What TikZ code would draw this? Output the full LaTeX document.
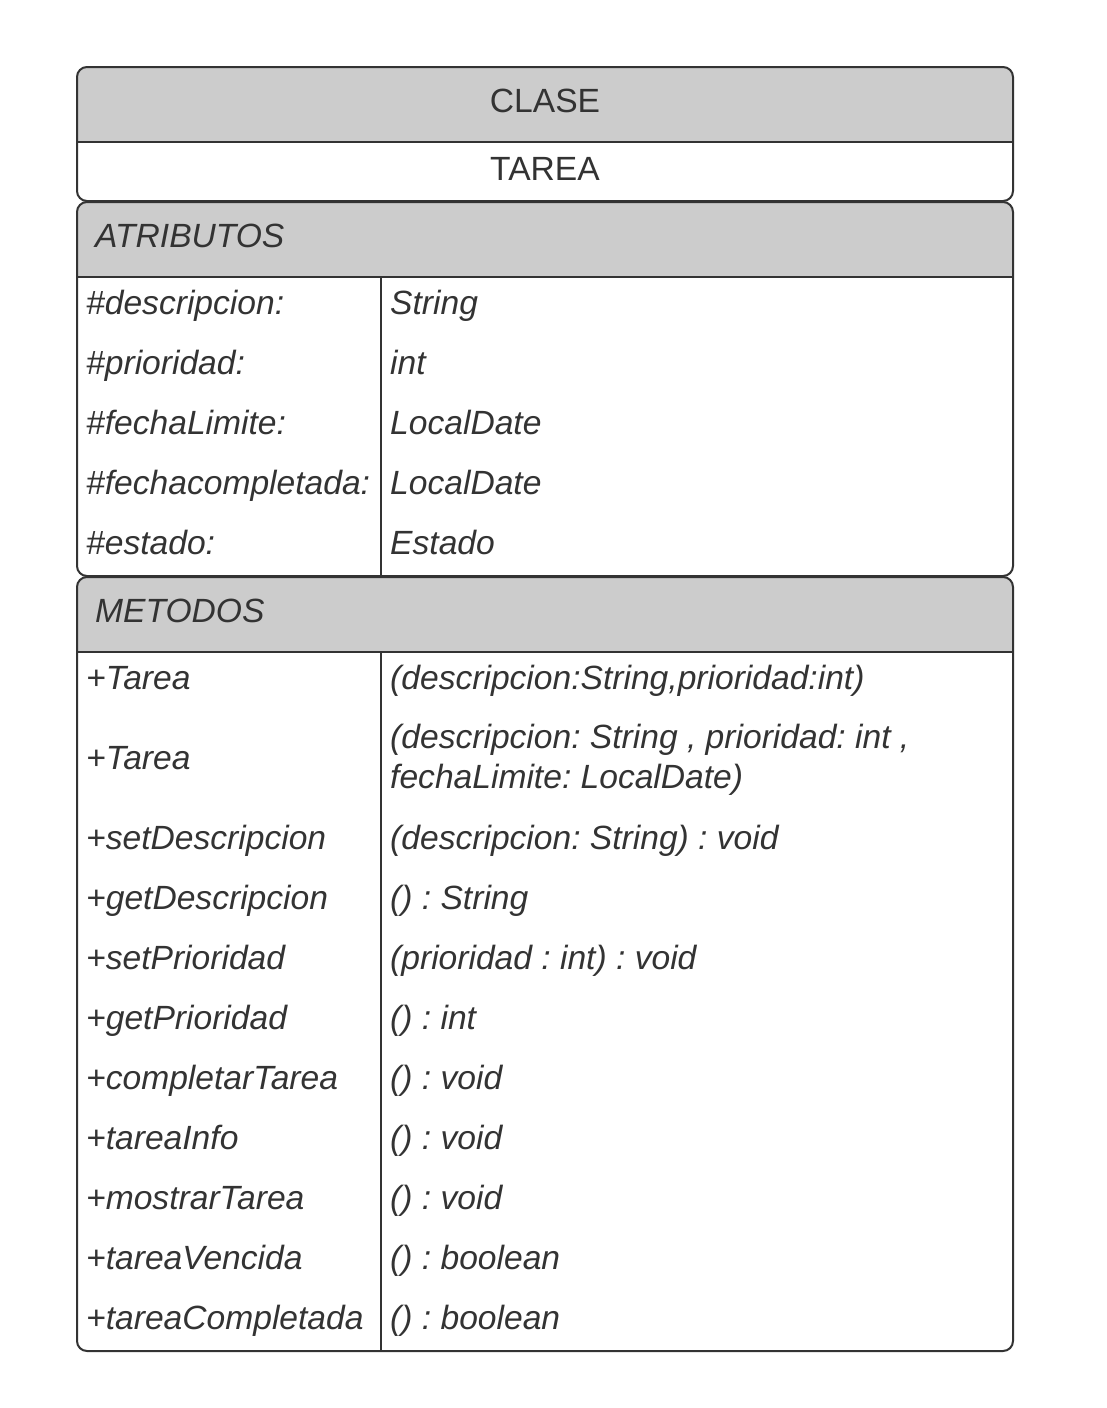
\documentclass[tikz,border=0pt]{standalone}
\usepackage{fontspec}
\setmainfont{Liberation Sans}
\frenchspacing
\definecolor{ln}{HTML}{333333}
\definecolor{hd}{HTML}{CCCCCC}
\tikzset{
  frame/.style={draw=ln, line width=2pt, rounded corners=10pt},
  sep/.style={draw=ln, line width=2pt},
  it/.style={anchor=base west, inner sep=0pt, text=ln, font=\fontsize{33.6}{40}\selectfont\itshape\frenchspacing},
  up/.style={anchor=base, inner sep=0pt, text=ln, font=\fontsize{33.6}{40}\selectfont},
}
\begin{document}
\begin{tikzpicture}[x=1pt,y=-1pt]
\useasboundingbox (0,0) rectangle (1106,1408);
\fill[white] (0,0) rectangle (1106,1408);
% ---- box 1: CLASE / TAREA
\begin{scope}
  \clip[rounded corners=10pt] (77,67) rectangle (1013,201);
  \fill[hd] (77,67) rectangle (1013,142);
\end{scope}
\draw[frame] (77,67) rectangle (1013,201);
\draw[sep] (77,142) -- (1013,142);
\node[up] (clase) at (545,112) {CLASE};
\node[up] (tarea) at (545,180) {TAREA};
% ---- box 2: ATRIBUTOS
\begin{scope}
  \clip[rounded corners=10pt] (77,202) rectangle (1013,576);
  \fill[hd] (77,202) rectangle (1013,277);
\end{scope}
\draw[frame] (77,202) rectangle (1013,576);
\draw[sep] (77,277) -- (1013,277);
\draw[sep] (381,277) -- (381,576);
\node[it] (atr) at (95,247) {ATRIBUTOS};
\node[it] (a1) at (86,314) {\#descripcion:};
\node[it] (a2) at (86,374) {\#prioridad:};
\node[it] (a3) at (86,434) {\#fechaLimite:};
\node[it] (a4) at (86,494) {\#fechacompletada:};
\node[it] (a5) at (86,554) {\#estado:};
\node[it] (t1) at (390,314) {String};
\node[it] (t2) at (390,374) {int};
\node[it] (t3) at (390,434) {LocalDate};
\node[it] (t4) at (390,494) {LocalDate};
\node[it] (t5) at (390,554) {Estado};
% ---- box 3: METODOS
\begin{scope}
  \clip[rounded corners=10pt] (77,577) rectangle (1013,1351);
  \fill[hd] (77,577) rectangle (1013,652);
\end{scope}
\draw[frame] (77,577) rectangle (1013,1351);
\draw[sep] (77,652) -- (1013,652);
\draw[sep] (381,652) -- (381,1351);
\node[it] (met) at (95,622) {METODOS};
\node[it] (m1) at (86,689) {+Tarea};
\node[it] (m2) at (86,769) {+Tarea};
\node[it] (m3) at (86,849) {+setDescripcion};
\node[it] (m4) at (86,909) {+getDescripcion};
\node[it] (m5) at (86,969) {+setPrioridad};
\node[it] (m6) at (86,1029) {+getPrioridad};
\node[it] (m7) at (86,1089) {+completarTarea};
\node[it] (m8) at (86,1149) {+tareaInfo};
\node[it] (m9) at (86,1209) {+mostrarTarea};
\node[it] (m10) at (86,1269) {+tareaVencida};
\node[it] (m11) at (86,1329) {+tareaCompletada};
\node[it] (s1) at (390,689) {(descripcion:String,prioridad:int)};
\node[it] (s2a) at (390,748) {(descripcion: String , prioridad: int ,};
\node[it] (s2b) at (390,788) {fechaLimite: LocalDate)};
\node[it] (s3) at (390,849) {(descripcion: String) : void};
\node[it] (s4) at (390,909) {() : String};
\node[it] (s5) at (390,969) {(prioridad : int) : void};
\node[it] (s6) at (390,1029) {() : int};
\node[it] (s7) at (390,1089) {() : void};
\node[it] (s8) at (390,1149) {() : void};
\node[it] (s9) at (390,1209) {() : void};
\node[it] (s10) at (390,1269) {() : boolean};
\node[it] (s11) at (390,1329) {() : boolean};
\end{tikzpicture}
\end{document}
